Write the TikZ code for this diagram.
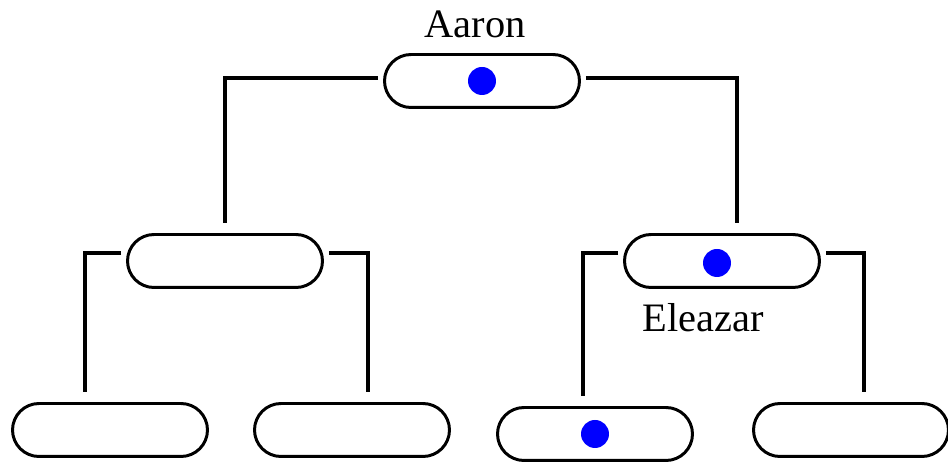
\documentclass[tikz,border=0pt]{standalone}
\usepackage{fontspec}
\setmainfont{Liberation Serif}
\usetikzlibrary{shapes.misc}
\begin{document}
\begin{tikzpicture}[x=0.02cm,y=-0.02cm,
  pill/.style={draw,line width=1.7pt,rounded rectangle,minimum width=3.9cm,minimum height=1.06cm,inner sep=0pt},
  link/.style={line width=2pt,shorten <=0.1cm,shorten >=0.2cm},
  bead/.style={circle,fill=blue,inner sep=0pt,minimum size=0.56cm},
  label/.style={font=\fontsize{23}{25}\selectfont,anchor=base}]
  \useasboundingbox (0,0) rectangle (948,465);

  % family tree
  \node[pill] (aaron) at (482,81) {};
  \node[pill] (ml) at (225,261) {};
  \node[pill] (mr) at (722,261) {};
  \node[pill] (b1) at (110,430) {};
  \node[pill] (b2) at (352,430) {};
  \node[pill] (b3) at (595,434) {};
  \node[pill] (b4) at (851,430) {};

  \node[bead] (d1) at (aaron) {};
  \node[bead] (d2) at (717,263) {};
  \node[bead] (d3) at (b3) {};

  \node[label] (aaronname) at (475,38) {Aaron};
  \node[label] (eleazarname) at (703,332) {Eleazar};

  \draw[link] ([yshift=0.06cm]aaron.west) -| (ml.north);
  \draw[link] ([yshift=0.06cm]aaron.east) -| ([xshift=0.3cm]mr.north);
  \draw[link] ([yshift=0.16cm]ml.west) -| ([xshift=-0.5cm]b1.north);
  \draw[link] ([yshift=0.16cm]ml.east) -| ([xshift=0.32cm]b2.north);
  \draw[link] ([yshift=0.16cm]mr.west) -| ([xshift=-0.24cm]b3.north);
  \draw[link] ([yshift=0.16cm]mr.east) -| ([xshift=0.26cm]b4.north);
\end{tikzpicture}
\end{document}
